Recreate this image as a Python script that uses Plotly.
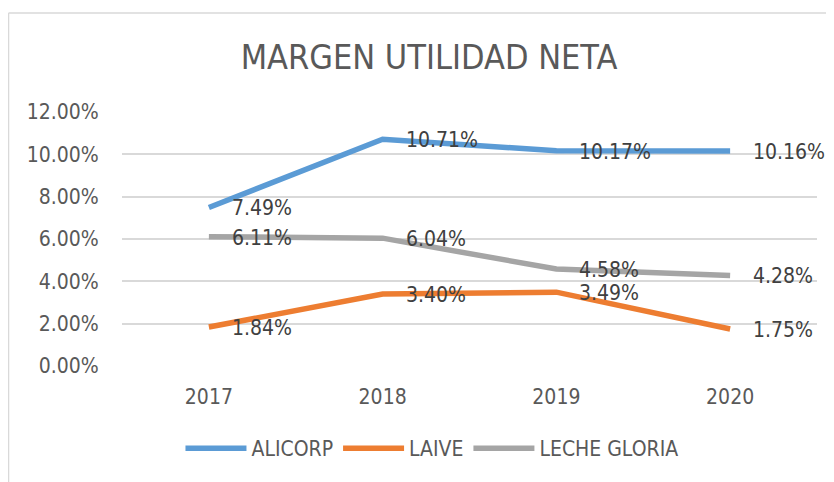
import plotly.graph_objects as go

years = ["2017", "2018", "2019", "2020"]
alicorp = [7.49, 10.71, 10.17, 10.16]
laive = [1.84, 3.40, 3.49, 1.75]
gloria = [6.11, 6.04, 4.58, 4.28]
series_names = ["ALICORP", "LAIVE", "LECHE GLORIA"]
colors = ["#5B9BD5", "#ED7D31", "#A5A5A5"]
y_ticks = [0, 2, 4, 6, 8, 10, 12]
y_ticktext = [f"{t:.2f}%" for t in y_ticks]

FONT = "DejaVu Sans Condensed, DejaVu Sans, sans-serif"
FS = 21

# page renders the figure with an 8px body margin, so the figure is 826x474
W, H = 826, 474

fig = go.Figure()
annotations = []
for name, vals, col in zip(series_names, [alicorp, laive, gloria], colors):
    fig.add_trace(go.Scatter(
        x=years, y=vals, name=name, mode="lines",
        line=dict(color=col, width=5.5),
        hoverinfo="skip",
    ))
    for i, v in enumerate(vals):
        annotations.append(dict(
            x=i, y=v, xref="x", yref="y", text=f"{v:.2f}%",
            showarrow=False, xanchor="left", yanchor="middle",
            xshift=21, yshift=-1,
            font=dict(family=FONT, size=FS, color="#404040"),
        ))

fig.update_layout(
    width=W, height=H,
    margin=dict(l=114, r=17, t=104, b=116),
    paper_bgcolor="white", plot_bgcolor="white",
    title=dict(text="MARGEN UTILIDAD NETA", x=421 / W, xref="container", xanchor="center",
               y=1 - 49 / H, yref="container", yanchor="middle",
               font=dict(family=FONT, size=34, color="#595959")),
    xaxis=dict(type="category", range=[-0.5, 3.5], showgrid=False, zeroline=False,
               showline=False, ticks="outside", ticklen=12, tickcolor="rgba(0,0,0,0)",
               tickfont=dict(family=FONT, size=FS, color="#595959")),
    yaxis=dict(range=[0, 12], tickvals=y_ticks, ticktext=y_ticktext,
               showgrid=True, gridcolor="#D9D9D9", gridwidth=1.5, zeroline=False,
               showline=False, ticks="outside", ticklen=18, tickcolor="rgba(0,0,0,0)",
               tickfont=dict(family=FONT, size=FS, color="#595959")),
    legend=dict(orientation="h", x=0.446, xanchor="center", y=-0.325, yanchor="middle",
                font=dict(family=FONT, size=FS, color="#595959"),
                itemwidth=61, bgcolor="rgba(0,0,0,0)"),
    annotations=annotations,
    shapes=[
        dict(type="line", xref="paper", yref="paper", x0=-0.1633, x1=-0.1633, y0=1.3898, y1=-0.48,
             line=dict(color="#D9D9D9", width=1.5)),
        dict(type="line", xref="paper", yref="paper", x0=-0.1633, x1=1.06, y0=1.3898, y1=1.3898,
             line=dict(color="#D9D9D9", width=1.5)),
    ],
    showlegend=True,
)

fig.write_html("out.html")
